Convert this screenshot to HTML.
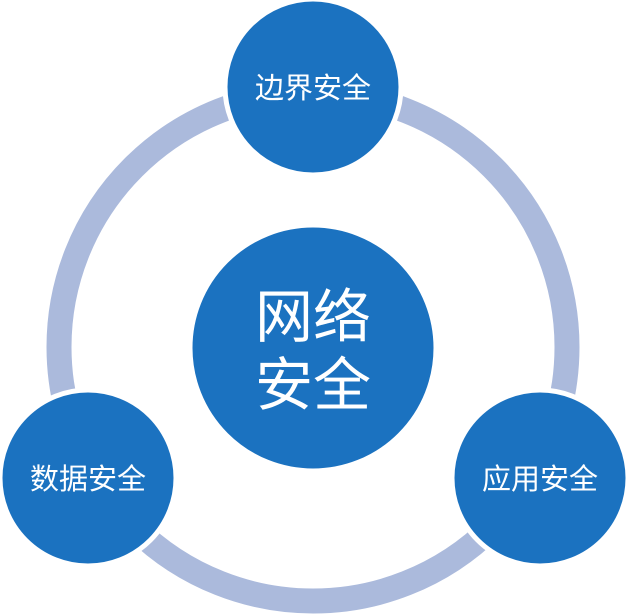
<!DOCTYPE html>
<html><head><meta charset="utf-8"><style>
html,body{margin:0;padding:0;background:#fff;}
svg{display:block;}
text{font-family:"Liberation Sans","Noto Sans CJK SC",sans-serif;fill:#fff;text-anchor:middle;}
</style></head><body>
<svg width="626" height="616" viewBox="0 0 626 616" xmlns="http://www.w3.org/2000/svg">
<circle cx="313" cy="347" r="254" fill="none" stroke="#abbadc" stroke-width="25"/>
<g fill="#1b72c0" stroke="#fff" stroke-width="5">
<circle cx="313" cy="87" r="88"/>
<circle cx="88" cy="478" r="88"/>
<circle cx="540" cy="478" r="88"/>
<circle cx="313" cy="348" r="123"/>
</g>
<text x="313" y="98" font-size="29">边界安全</text>
<text x="88" y="489" font-size="29">数据安全</text>
<text x="540" y="489" font-size="29">应用安全</text>
<text x="313" y="337" font-size="58">网络</text>
<text x="313" y="405" font-size="58">安全</text>
</svg>
</body></html>
